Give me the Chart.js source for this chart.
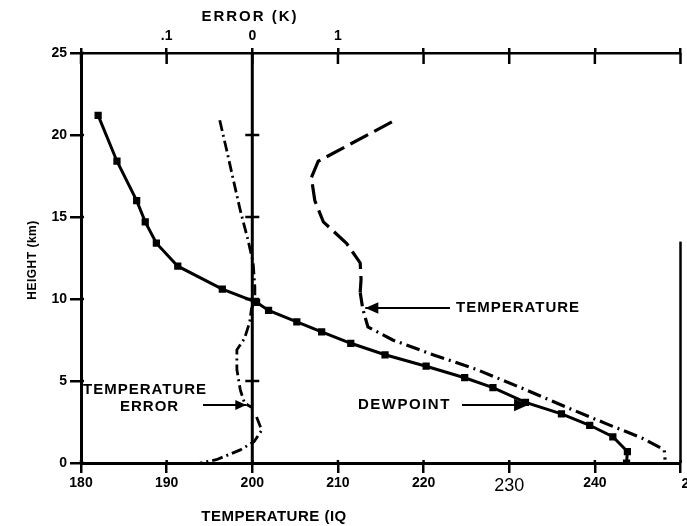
<!DOCTYPE html>
<html>
<head>
<meta charset="utf-8">
<script src="https://cdn.jsdelivr.net/npm/chart.js@4/dist/chart.umd.min.js"></script>
<style>
  html, body { margin: 0; padding: 0; background: #fff; overflow: hidden; }
</style>
</head>
<body>
<canvas id="chart" width="690" height="526"></canvas>
<script>
// Dewpoint (solid line with square markers), temperature (K) vs height (km)
let dewT = [182.0, 184.2, 186.5, 187.5, 188.8, 191.3, 196.5, 200.5, 201.9, 205.2, 208.1, 211.5, 215.5, 220.3, 224.8, 228.1, 231.9, 236.1, 239.4, 242.1, 243.8, 243.7]
let dewH = [21.2, 18.4, 16.0, 14.7, 13.4, 12.0, 10.6, 9.8, 9.3, 8.6, 8.0, 7.3, 6.6, 5.9, 5.2, 4.6, 3.7, 3.0, 2.3, 1.6, 0.7, 0.0]

// Temperature (dashed / dash-dot)
let tempT = [216.3, 207.7, 206.9, 207.3, 208.3, 211.0, 212.6, 212.7, 212.6, 212.9, 213.5, 216.4, 221.1, 226.2, 232.0, 236.7, 241.3, 245.6, 248.1, 248.2]
let tempH = [20.8, 18.4, 17.4, 16.0, 14.7, 13.4, 12.2, 11.2, 10.4, 9.4, 8.3, 7.5, 6.6, 5.7, 4.45, 3.4, 2.4, 1.5, 0.8, 0.2]

// Temperature error (K), top axis
let errE = [-0.38, -0.30, -0.24, -0.14, -0.05, 0.01, 0.03, 0.03, -0.01, -0.03, -0.09, -0.18, -0.18, -0.14, -0.09, -0.01, null, 0.05, 0.11, 0.02, -0.14, -0.42, -0.61]
let errH = [20.9, 19.1, 17.7, 15.4, 13.6, 12.2, 10.75, 9.9, 9.4, 8.6, 7.6, 6.9, 5.7, 4.45, 3.65, 3.4, null, 2.8, 2.0, 1.3, 0.8, 0.2, 0.0]

// zero error line and its tick marks
let zeroT = 200
let zeroTickH = [5, 10, 15, 20]

// axes
let tempMin = 180, tempMax = 250, tempStep = 10
let heightMin = 0, heightMax = 25, heightStep = 5
let errMin = -2, errMax = 5
let errTicks = [-1, 0, 1]
let errTickText = ['.1', '0', '1']

function pts(xs, ys) {
    return xs.map((v, i) => ({ x: v, y: ys[i] }))
}

const FONT = 'Liberation Sans'
const bold = { family: FONT, size: 14, weight: 'bold' }

function fixSize(prop, val) {
    return function (s) {
        s[prop] = val
        s.paddingLeft = 0; s.paddingRight = 0; s.paddingTop = 0; s.paddingBottom = 0
    }
}

function arrow(ctx, x1, y1, x2, y2, head, lw) {
    ctx.lineWidth = lw
    ctx.beginPath(); ctx.moveTo(x1, y1); ctx.lineTo(x2, y2); ctx.stroke()
    let a = Math.atan2(y2 - y1, x2 - x1)
    ctx.beginPath()
    ctx.moveTo(x2, y2)
    ctx.lineTo(x2 - head * Math.cos(a) + head * 0.45 * Math.sin(a), y2 - head * Math.sin(a) - head * 0.45 * Math.cos(a))
    ctx.lineTo(x2 - head * Math.cos(a) - head * 0.45 * Math.sin(a), y2 - head * Math.sin(a) + head * 0.45 * Math.cos(a))
    ctx.closePath(); ctx.fill()
}

function text(ctx, s, x, y, size, spacing, align) {
    ctx.font = 'bold ' + size + 'px "' + FONT + '"'
    ctx.letterSpacing = spacing + 'px'
    ctx.textAlign = align || 'left'
    ctx.textBaseline = 'middle'
    ctx.fillText(s, x, y)
}

const decor = {
    id: 'decor',
    afterDraw(chart) {
        const ctx = chart.ctx
        const { x, x2, y } = chart.scales
        const a = chart.chartArea
        ctx.save()
        ctx.strokeStyle = '#000'
        ctx.fillStyle = '#000'
        ctx.lineWidth = 2.5

        // inner halves of the tick marks
        for (let v = tempMin; v <= tempMax; v += tempStep) {
            let px = x.getPixelForValue(v)
            ctx.beginPath(); ctx.moveTo(px, a.bottom); ctx.lineTo(px, a.bottom - 3); ctx.stroke()
        }
        for (let v = errMin; v <= errMax; v++) {
            let px = x2.getPixelForValue(v)
            ctx.beginPath(); ctx.moveTo(px, a.top); ctx.lineTo(px, a.top + 11); ctx.stroke()
        }
        for (let v = heightMin; v <= heightMax; v += heightStep) {
            let py = y.getPixelForValue(v)
            ctx.beginPath(); ctx.moveTo(a.left, py); ctx.lineTo(a.left + 3, py); ctx.stroke()
        }

        // partial right frame
        ctx.lineWidth = 2.5
        ctx.beginPath(); ctx.moveTo(a.right, a.bottom); ctx.lineTo(a.right, y.getPixelForValue(13.5)); ctx.stroke()

        // axis titles
        text(ctx, 'ERROR (K)', 250, 17, 15, 2, 'center')
        text(ctx, 'TEMPERATURE (IQ', 274, 517, 15, 0.5, 'center')
        ctx.save()
        ctx.translate(33, 260); ctx.rotate(-Math.PI / 2)
        text(ctx, 'HEIGHT (km)', 0, 0, 12, 0.5, 'center')
        ctx.restore()
        // cut label at right end of the bottom axis
        text(ctx, '2', a.right + 1, 484, 14, 0, 'left')

        // annotations
        text(ctx, 'TEMPERATURE', 456, 308, 15, 1)
        arrow(ctx, 450, 308, x.getPixelForValue(213.2), 308, 13, 2)
        text(ctx, 'DEWPOINT', 358, 405, 15, 1.5)
        arrow(ctx, 462, 405, x.getPixelForValue(232.2), 405, 14, 2)
        text(ctx, 'TEMPERATURE', 83, 390, 15, 1)
        text(ctx, 'ERROR', 120, 407, 15, 1)
        arrow(ctx, 203, 405, x.getPixelForValue(199.3), 405, 11, 2)
        ctx.restore()
    }
}

new Chart(document.getElementById('chart'), {
    type: 'scatter',
    data: {
        datasets: [
            {
                label: 'DEWPOINT',
                data: pts(dewT, dewH),
                showLine: true,
                borderColor: '#000',
                backgroundColor: '#000',
                borderWidth: 3,
                pointStyle: 'rect',
                pointRadius: 3,
                xAxisID: 'x', yAxisID: 'y',
            },
            {
                label: 'TEMPERATURE',
                data: pts(tempT, tempH),
                showLine: true,
                borderColor: '#000',
                borderWidth: 3.2,
                pointRadius: 0,
                segment: {
                    borderDash: c => c.p0.parsed.y > 10.8 ? [20, 7] : [14, 5, 2, 5]
                },
                xAxisID: 'x', yAxisID: 'y',
            },
            {
                label: 'TEMPERATURE ERROR',
                data: pts(errE, errH),
                showLine: true,
                spanGaps: false,
                borderColor: '#000',
                borderWidth: 2.8,
                borderDash: [11, 4, 2, 4],
                pointRadius: 0,
                xAxisID: 'x2', yAxisID: 'y',
            },
            {
                label: 'zero',
                data: [{ x: zeroT, y: heightMin }, { x: zeroT, y: heightMax }],
                showLine: true,
                borderColor: '#000',
                borderWidth: 3,
                pointRadius: 0,
                xAxisID: 'x', yAxisID: 'y',
            },
            {
                label: 'zero ticks',
                data: zeroTickH.map(h => ({ x: zeroT, y: h })),
                showLine: false,
                pointStyle: 'line',
                pointRadius: 7,
                borderColor: '#000',
                borderWidth: 2.5,
                xAxisID: 'x', yAxisID: 'y',
            },
        ]
    },
    options: {
        responsive: false,
        animation: false,
        layout: { padding: { left: 0, right: 0, top: 0, bottom: 0 } },
        plugins: {
            legend: { display: false },
            tooltip: { enabled: false },
        },
        scales: {
            x: {
                type: 'linear',
                position: 'bottom',
                min: tempMin, max: tempMax,
                border: { color: '#000', width: 3 },
                grid: { drawOnChartArea: false, color: '#000', lineWidth: 2.5, tickLength: 10 },
                ticks: {
                    stepSize: tempStep,
                    color: '#000',
                    padding: 2,
                    maxRotation: 0,
                    font: c => (c.tick && c.tick.value === 230) ? { family: FONT, size: 18, weight: 'normal' } : bold,
                    callback: v => v === tempMax ? '' : String(v),
                },
                afterFit: fixSize('height', 63),
            },
            x2: {
                type: 'linear',
                position: 'top',
                min: errMin, max: errMax,
                border: { color: '#000', width: 2.5 },
                grid: { drawOnChartArea: false, color: '#000', lineWidth: 2.5, tickLength: 5 },
                ticks: {
                    stepSize: 1,
                    color: '#000',
                    padding: 3,
                    maxRotation: 0,
                    font: bold,
                    callback: v => {
                        let i = errTicks.indexOf(v)
                        return i >= 0 ? errTickText[i] : ''
                    },
                },
                afterFit: fixSize('height', 53),
            },
            y: {
                type: 'linear',
                min: heightMin, max: heightMax,
                border: { color: '#000', width: 3 },
                grid: { drawOnChartArea: false, color: '#000', lineWidth: 2.5, tickLength: 11 },
                ticks: {
                    stepSize: heightStep,
                    color: '#000',
                    padding: 3,
                    font: bold,
                },
                afterFit: fixSize('width', 81),
            },
        }
    },
    plugins: [decor]
});
</script>
</body>
</html>
